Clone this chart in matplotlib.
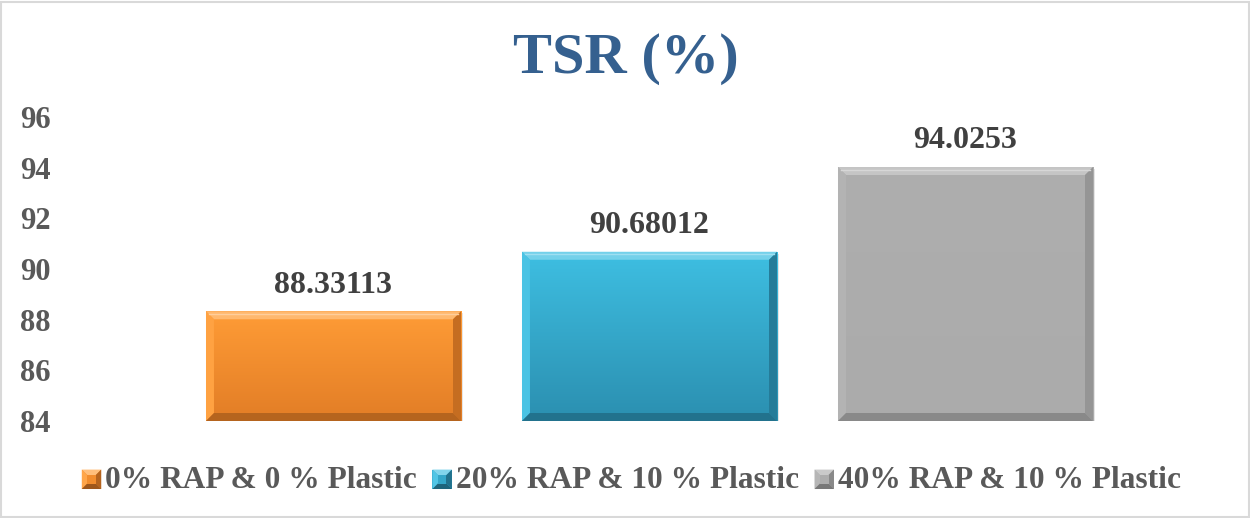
import numpy as np
import matplotlib
matplotlib.use("Agg")
import matplotlib.pyplot as plt
from matplotlib.patches import Polygon, Rectangle
from matplotlib.legend_handler import HandlerBase
from matplotlib.colors import to_rgb

# ---- data ----
categories = ["0% RAP & 0 % Plastic", "20% RAP & 10 % Plastic", "40% RAP & 10 % Plastic"]
tsr_values = [88.33113, 90.68012, 94.0253]
value_labels = ["88.33113", "90.68012", "94.0253"]
y_ticks = [84, 86, 88, 90, 92, 94, 96]

# top / bottom gradient colours for each bar
grad_top = ["#FF9C36", "#3EBFE2", "#AEAEAE"]
grad_bottom = ["#E27D26", "#2B8FB0", "#ABABAB"]

SERIF = ["Liberation Serif", "DejaVu Serif"]
W, H = 1250, 518

fig = plt.figure(figsize=(W / 100, H / 100), dpi=100)
fig.patch.set_facecolor("white")

# plot area in pixels
px_left, px_right, px_top, px_bottom = 60, 1239, 117, 421
ax = fig.add_axes([px_left / W, 1 - px_bottom / H,
                   (px_right - px_left) / W, (px_bottom - px_top) / H])
ax.set_xlim(-0.8655, 2.8655)
ax.set_ylim(84, 96)
ax.set_facecolor("none")
for s in ax.spines.values():
    s.set_visible(False)
ax.set_xticks([])
ax.set_yticks(y_ticks)
ax.set_yticklabels([str(t) for t in y_ticks], family=SERIF, fontsize=22,
                   fontweight="bold", color="#595959")
ax.tick_params(axis="y", length=0, pad=7)

x = np.arange(len(categories))
bar_w = 0.807
bars = ax.bar(x, [v - 84 for v in tsr_values], bottom=84, width=bar_w,
              color="none", edgecolor="none", zorder=2)


def mix(c, other, t):
    a = np.array(to_rgb(c))
    b = np.array(to_rgb(other))
    return tuple(a * (1 - t) + b * t)


def bevel_polys(x0, y0, x1, y1, d):
    """Bevel trapezoids in display coordinates (y up)."""
    top = [(x0, y1), (x1, y1), (x1 - d, y1 - d), (x0 + d, y1 - d)]
    bottom = [(x0, y0), (x1, y0), (x1 - d, y0 + d), (x0 + d, y0 + d)]
    left = [(x0, y0), (x0, y1), (x0 + d, y1 - d), (x0 + d, y0 + d)]
    right = [(x1, y0), (x1, y1), (x1 - d, y1 - d), (x1 - d, y0 + d)]
    return top, bottom, left, right


fig.canvas.draw()
inv = ax.transData.inverted()

for i, rect in enumerate(bars):
    bx0, by0 = rect.get_x(), rect.get_y()
    bx1, by1 = bx0 + rect.get_width(), by0 + rect.get_height()

    # soft drop shadow
    (dx0, dy0), (dx1, dy1) = ax.transData.transform([(bx0, by0), (bx1, by1)])
    sh = inv.transform([(dx0 + 2, dy0 - 2), (dx1 + 2, dy1 - 2)])
    ax.add_patch(Rectangle(sh[0], sh[1][0] - sh[0][0], sh[1][1] - sh[0][1],
                           facecolor="#000000", alpha=0.10, edgecolor="none", zorder=1.5))

    # vertical gradient fill
    grad = np.linspace(0, 1, 256)[:, None]
    c_top = np.array(to_rgb(grad_top[i]))
    c_bot = np.array(to_rgb(grad_bottom[i]))
    img = c_top[None, None, :] * (1 - grad[..., None]) + c_bot[None, None, :] * grad[..., None]
    im = ax.imshow(img, extent=[bx0, bx1, by0, by1], origin="upper",
                   aspect="auto", zorder=2, interpolation="bilinear")
    im.set_clip_path(rect)

    # bevel edges
    d = 8
    top, bottom, left, right = bevel_polys(dx0, dy0, dx1, dy1, d)
    pieces = [
        (top, mix(grad_top[i], "white", 0.28)),
        (left, mix(grad_top[i], "white", 0.06)),
        (right, mix(grad_bottom[i], "black", 0.13)),
        (bottom, mix(grad_bottom[i], "black", 0.20)),
    ]
    for poly, col in pieces:
        ax.add_patch(Polygon(inv.transform(poly), closed=True, facecolor=col,
                             edgecolor="none", zorder=3))
    # thin highlight line along the top edge
    hl = inv.transform([(dx0 + 3, dy1 - 2.5), (dx1 - 3, dy1 - 2.5)])
    ax.plot(hl[:, 0], hl[:, 1], color=mix(grad_top[i], "white", 0.5), lw=1.0, zorder=3.5)

    # value label
    ax.annotate(value_labels[i], (x[i], tsr_values[i]), xytext=(0, 13.5),
                textcoords="offset points", ha="center", va="baseline",
                family=SERIF, fontsize=23, fontweight="bold", color="#404040",
                zorder=5)


# legend with bevelled square keys
class BevelHandler(HandlerBase):
    def __init__(self, top_c, bot_c):
        super().__init__()
        self.top_c, self.bot_c = top_c, bot_c

    def create_artists(self, legend, orig_handle, xdescent, ydescent,
                       width, height, fontsize, trans):
        s = 14
        x0 = -xdescent + (width - s)
        y0 = -ydescent + (height - s) / 2 - 2
        x1, y1 = x0 + s, y0 + s
        base = mix(self.top_c, self.bot_c, 0.5)
        d = s * 0.28
        cx, cy = (x0 + x1) / 2, (y0 + y1) / 2
        arts = [Rectangle((x0, y0), s, s, facecolor=base, edgecolor="none", transform=trans)]
        tri = [
            ([(x0, y1), (x1, y1), (cx, cy)], mix(self.top_c, "white", 0.35)),
            ([(x0, y0), (x0, y1), (cx, cy)], mix(self.top_c, "white", 0.1)),
            ([(x1, y0), (x1, y1), (cx, cy)], mix(self.bot_c, "black", 0.2)),
            ([(x0, y0), (x1, y0), (cx, cy)], mix(self.bot_c, "black", 0.3)),
        ]
        for pts, col in tri:
            arts.append(Polygon(pts, closed=True, facecolor=col, edgecolor="none",
                                transform=trans))
        inner = Rectangle((x0 + d, y0 + d), s - 2 * d, s - 2 * d, facecolor=base,
                          edgecolor="none", transform=trans)
        arts.append(inner)
        return arts


handles = [Rectangle((0, 0), 1, 1) for _ in categories]
handler_map = {h: BevelHandler(grad_top[i], grad_bottom[i]) for i, h in enumerate(handles)}
fig.legend(handles, categories, loc="center", bbox_to_anchor=(0.505, 1 - 480 / H),
           ncol=3, frameon=False, handler_map=handler_map,
           prop={"family": SERIF, "size": 22.6, "weight": "bold"},
           labelcolor="#595959", handlelength=0.62, handleheight=0.7,
           handletextpad=0.12, columnspacing=0.5)

# title
fig.text(0.501, 1 - 73 / H, "TSR (%)", ha="center", va="baseline",
         family=SERIF, fontsize=42, fontweight="bold", color="#35608F")

# chart border
fig.add_artist(Rectangle((1.5 / W, 1.5 / H), (W - 3) / W, (H - 3) / H,
                         transform=fig.transFigure, facecolor="none",
                         edgecolor="#D9D9D9", lw=1.5))

fig.savefig("out.png", dpi=100, facecolor="white")
